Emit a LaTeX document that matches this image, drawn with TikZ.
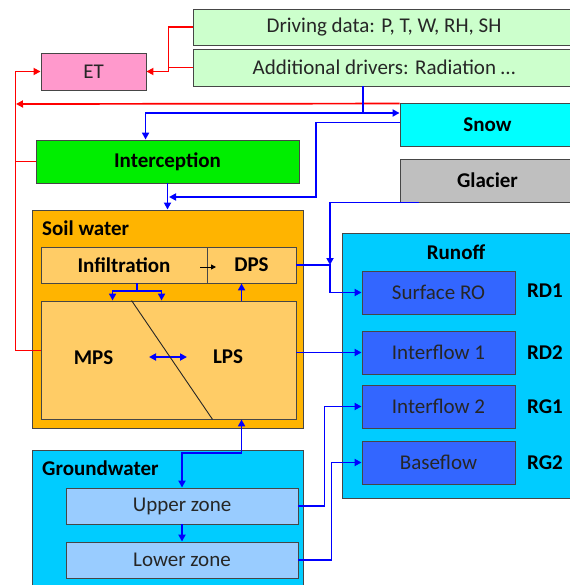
\documentclass[tikz,border=0pt]{standalone}
\usepackage{fontspec}
\setmainfont{Carlito}
\usetikzlibrary{arrows.meta,calc}
\definecolor{drivegreen}{RGB}{204,255,204}
\definecolor{etpink}{RGB}{255,153,204}
\definecolor{snowcyan}{RGB}{0,255,255}
\definecolor{intgreen}{RGB}{0,238,0}
\definecolor{glgray}{RGB}{191,191,191}
\definecolor{soilorange}{RGB}{255,180,0}
\definecolor{soilinner}{RGB}{255,204,102}
\definecolor{runcyan}{RGB}{0,204,255}
\definecolor{runblue}{RGB}{51,102,255}
\definecolor{zoneblue}{RGB}{153,204,255}
\definecolor{bordergray}{RGB}{70,70,70}
\definecolor{txtgray}{RGB}{38,38,38}
\definecolor{lineblue}{RGB}{0,0,255}
\definecolor{linered}{RGB}{255,0,0}
\newcommand\diafont{\fontsize{21}{25}\selectfont}
\begin{document}
\begin{tikzpicture}[x=1pt,y=-1pt,
  box/.style={draw=bordergray, line width=0.9pt, inner sep=0pt, font=\diafont, text=txtgray},
  bbox/.style={box, font=\diafont\bfseries, text=black},
  lbl/.style={inner sep=0pt, font=\diafont\bfseries, text=black},
  arr/.style={-{Triangle[length=7pt,width=7pt]}},
  darr/.style={{Triangle[length=7pt,width=7pt]}-{Triangle[length=7pt,width=7pt]}},
  bl/.style={draw=lineblue, line width=1.8pt},
  rd/.style={draw=linered, line width=1.7pt},
  dk/.style={draw=black!85, line width=0.9pt}]
\useasboundingbox (0,0) rectangle (569,585);
\fill[white] (0,0) rectangle (569,585);

% top boxes
\node[box, fill=drivegreen, minimum width=382pt, minimum height=36pt] (drive) at (384,27) {Driving data: P, T, W, RH, SH};
\node[box, fill=drivegreen, minimum width=382pt, minimum height=37pt] (add) at (384,67.5) {Additional drivers: Radiation …};
\node[box, fill=etpink, minimum width=105pt, minimum height=37pt] (ET) at (93.5,71.5) {ET};
\node[bbox, fill=snowcyan, minimum width=175pt, minimum height=43pt] (snow) at (487.5,124.5) {Snow};
\node[bbox, fill=glgray, minimum width=175pt, minimum height=43pt] (glacier) at (487.5,180.5) {Glacier};
\node[bbox, fill=intgreen, minimum width=263pt, minimum height=43pt] (inter) at (167.5,161.5) {Interception};

% soil water
\node[box, fill=soilorange, minimum width=271pt, minimum height=218pt] (soil) at (167.5,319) {};
\node[lbl, anchor=west] (soiltitle) at (42,228) {Soil water};
\node[bbox, fill=soilinner, minimum width=166pt, minimum height=36pt] (infil) at (124,265) {Infiltration};
\node[bbox, fill=soilinner, minimum width=89pt, minimum height=36pt] (dps) at (251.5,265) {DPS};
\node[box, fill=soilinner, minimum width=255pt, minimum height=118pt] (mps) at (168.5,360) {};
\node[lbl] (mpslbl) at (93.5,358) {MPS};
\node[lbl] (lpslbl) at (228,357) {LPS};

% runoff
\node[box, fill=runcyan, minimum width=233pt, minimum height=265pt] (runoff) at (458.5,365.5) {};
\node[lbl] (runtitle) at (456,252) {Runoff};
\node[box, fill=runblue, minimum width=153pt, minimum height=43pt] (surf) at (438.5,292.5) {Surface RO};
\node[box, fill=runblue, minimum width=153pt, minimum height=43pt] (if1) at (438.5,352.5) {Interflow 1};
\node[box, fill=runblue, minimum width=153pt, minimum height=43pt] (if2) at (438.5,406.5) {Interflow 2};
\node[box, fill=runblue, minimum width=153pt, minimum height=43pt] (base) at (438.5,462.5) {Baseflow};
\node[lbl] (rd1) at (545,291) {RD1};
\node[lbl] (rd2) at (545,352.5) {RD2};
\node[lbl] (rg1) at (545,407) {RG1};
\node[lbl] (rg2) at (545,463) {RG2};

% groundwater
\node[box, fill=runcyan, minimum width=271pt, minimum height=140pt] (gw) at (167.5,520) {};
\node[lbl, anchor=west] (gwtitle) at (42,468) {Groundwater};
\node[box, fill=zoneblue, minimum width=232pt, minimum height=36pt] (upper) at (182,506) {Upper zone};
\node[box, fill=zoneblue, minimum width=232pt, minimum height=36pt] (lower) at (182,560) {Lower zone};

% helper coordinates
\coordinate (jA) at (363,113);
\coordinate (jB) at (169,197);
\coordinate (jC) at (330,265);
\coordinate (jD) at (137,291);
\coordinate (jE) at (182,453);
\coordinate (jR) at (16,104);

% red connectors
\draw[rd,arr] (drive.west) -- ++(-24,0) |- (ET.east);
\draw[rd] (add.west) -- ++(-24,0);
\draw[rd,arr] ($(snow.north west)+(0,1)$) -- (jR);
\draw[rd] (inter.west) -- ++(-20,0);
\draw[rd,arr] ($(mps.north west)+(0,50)$) -| ($(ET.west)+(-25,0)$) -- (ET.west);

% blue connectors
\draw[bl] (add.south -| jA) -- (jA);
\draw[bl,arr] (jA) -| ($(inter.north west)+(110,0)$);
\draw[bl,arr] (jA) -- (jA -| snow.west);
\draw[bl,arr] ($(snow.north west)+(0,20)$) -| ($(jB)+(147,0)$) -- (jB);
\draw[bl,arr] (inter.south) -- (soil.north);
\draw[bl,arr] ($(glacier.south west)+(19,0)$) -| (jC);
\draw[bl,arr] (dps.east) -- (jC) |- (surf.west);
\draw[bl,arr] (mps.east |- if1.west) -- (if1.west);
\draw[bl] (infil.south -| jD) -- (jD);
\draw[bl,arr] (jD) -| ($(mps.north west)+(72,0)$);
\draw[bl,arr] (jD) -| ($(mps.north west)+(121,0)$);
\draw[bl,arr] ($(mps.north west)+(201,0)$) -- ($(dps.south west)+(35,0)$);
\draw[bl,darr] ($(mps.south west)+(201,0)$) |- (jE) -- (upper.north);
\draw[bl,arr] (upper.south) -- (lower.north);
\draw[bl,arr] (upper.east) -- ++(26,0) |- (if2.west);
\draw[bl,arr] (lower.east) -- ++(33,0) |- (base.west);
\draw[bl,darr] (149,357) -- (187,357);

% black
\draw[dk] ($(mps.north west)+(91,0)$) -- ($(mps.south west)+(172,0)$);
\draw[black, line width=1pt, -{Triangle[length=5pt,width=5pt]}] (200,267) -- (216,267);
\end{tikzpicture}
\end{document}
